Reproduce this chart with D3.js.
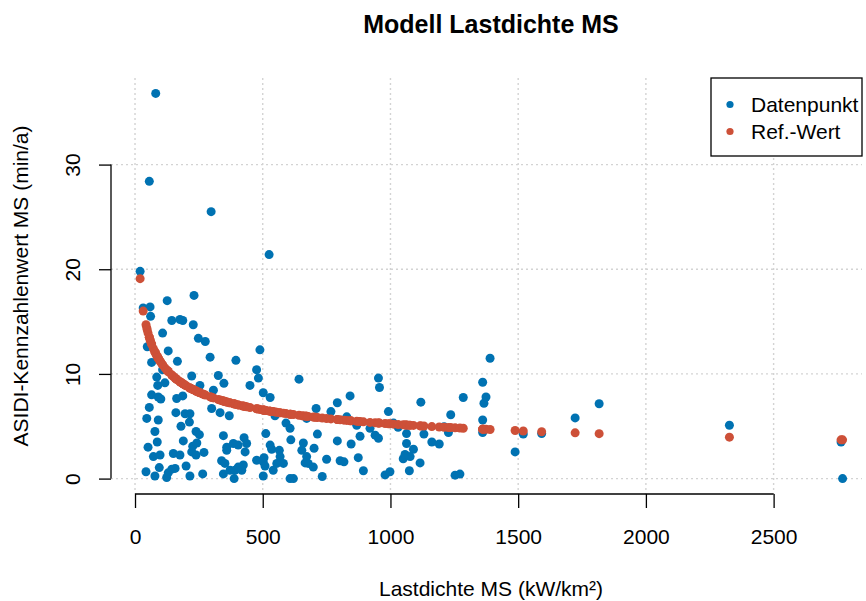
<!DOCTYPE html>
<html>
<head>
<meta charset="utf-8">
<script src="https://cdn.jsdelivr.net/npm/d3@7"></script>
<style>
  body { margin: 0; background: #fff; }
  svg text { font-family: "Liberation Sans", Arial, sans-serif; fill: #000; }
</style>
</head>
<body>
<script>
// Lastdichte MS (kW/km²) per Datenpunkt
const lastdichte = [
  20, 32, 43, 46, 48, 51, 56, 56, 59, 61,
  65, 65, 72, 78, 78, 81, 85, 87, 89, 91,
  91, 95, 98, 101, 108, 108, 117, 124, 126, 130,
  130, 144, 144, 150, 157, 160, 163, 166, 176, 176,
  180, 187, 187, 189, 196, 200, 213, 215, 215, 222,
  222, 226, 228, 231, 239, 239, 242, 248, 252, 254,
  265, 270, 275, 294, 298, 300, 307, 326, 333, 339,
  346, 346, 348, 352, 359, 359, 369, 372, 385, 388,
  391, 395, 404, 404, 418, 424, 427, 431, 437, 450,
  476, 476, 483, 489, 502, 502, 502, 505, 509, 512,
  525, 529, 529, 535, 541, 548, 555, 565, 568, 581,
  591, 607, 607, 610, 620, 642, 653, 659, 666, 672,
  672, 678, 698, 701, 709, 714, 733, 750, 767, 792,
  792, 803, 818, 829, 842, 846, 868, 874, 881, 894,
  920, 940, 953, 953, 957, 979, 992, 998, 1012, 1030,
  1050, 1057, 1063, 1063, 1074, 1077, 1090, 1116, 1119, 1131,
  1162, 1191, 1210, 1227, 1236, 1253, 1272, 1285, 1361, 1361,
  1361, 1366, 1374, 1390, 1488, 1520, 1592, 1723, 1817, 2327,
  2764, 2770
];

// ASIDI-Kennzahlenwert MS (min/a), measured
const asidi = [
  19.8, 16.3, 0.65, 5.75, 12.6, 3.0, 28.4, 6.8, 16.4, 15.5,
  11.1, 8.0, 2.1, 4.5, 0.25, 36.8, 9.7, 3.5, 8.9, 7.8,
  5.6, 1.05, 2.25, 7.6, 13.9, 10.4, 9.15, 0.1, 17.0, 12.2,
  0.55, 15.1, 0.9, 2.4, 0.97, 6.3, 7.65, 11.2, 15.2, 2.25,
  5.0, 15.1, 7.9, 3.6, 6.2, 1.2, 5.4, 6.2, 0.25, 9.8,
  2.55, 3.1, 14.7, 17.5, 4.5, 2.25, 3.4, 13.4, 4.2, 8.9,
  0.45, 2.5, 13.1, 11.6, 25.5, 6.7, 8.45, 9.85, 6.3, 1.7,
  4.1, 0.45, 9.1, 1.45, 3.0, 2.7, 6.0, 0.8, 3.35, 0.0,
  0.8, 11.3, 3.2, 1.1, 0.8, 1.3, 3.9, 2.55, 3.35, 8.9,
  10.4, 1.75, 9.6, 12.3, 8.2, 1.6, 0.25, 2.0, 1.2, 4.3,
  21.4, 7.75, 3.2, 2.8, 0.8, 6.0, 1.45, 2.7, 2.1, 1.45,
  5.3, 4.8, 0.0, 3.7, 0.0, 9.5, 2.7, 3.4, 1.5, 5.75,
  2.1, 1.45, 1.1, 2.9, 6.7, 4.25, 0.2, 1.85, 6.4, 7.25,
  3.6, 1.7, 1.6, 5.9, 7.9, 3.3, 5.1, 2.0, 4.05, 0.75,
  4.8, 4.15, 9.6, 3.85, 8.7, 0.35, 6.4, 0.65, 5.3, 4.9,
  1.9, 2.3, 4.3, 3.35, 0.75, 2.1, 2.8, 1.5, 7.3, 4.25,
  3.5, 3.3, 4.95, 4.4, 6.1, 0.33, 0.43, 7.75, 9.2, 5.6,
  4.4, 7.2, 7.8, 11.5, 2.55, 4.25, 4.3, 5.8, 7.15, 5.1,
  3.5, 0.0
];

// Ref.-Wert for the same points
const refWert = [
  19.1, 16.0, 14.7, 14.4, 14.2, 13.9, 13.5, 13.5, 13.25, 13.1,
  12.85, 12.85, 12.4, 12.1, 12.1, 11.95, 11.75, 11.67, 11.58, 11.5,
  11.5, 11.34, 11.22, 11.11, 10.87, 10.87, 10.58, 10.38, 10.33, 10.23,
  10.23, 9.89, 9.89, 9.75, 9.61, 9.54, 9.49, 9.43, 9.25, 9.25,
  9.18, 9.07, 9.07, 9.03, 8.93, 8.87, 8.69, 8.66, 8.66, 8.57,
  8.57, 8.52, 8.5, 8.47, 8.37, 8.37, 8.33, 8.26, 8.22, 8.2,
  8.08, 8.04, 7.99, 7.81, 7.78, 7.76, 7.71, 7.55, 7.5, 7.46,
  7.41, 7.41, 7.4, 7.37, 7.32, 7.32, 7.25, 7.24, 7.15, 7.14,
  7.12, 7.09, 7.04, 7.04, 6.96, 6.93, 6.91, 6.89, 6.86, 6.79,
  6.67, 6.67, 6.64, 6.61, 6.55, 6.55, 6.55, 6.54, 6.53, 6.51,
  6.46, 6.44, 6.44, 6.42, 6.4, 6.37, 6.34, 6.3, 6.29, 6.25,
  6.21, 6.15, 6.15, 6.15, 6.12, 6.04, 6.01, 5.99, 5.97, 5.95,
  5.95, 5.94, 5.88, 5.87, 5.85, 5.84, 5.79, 5.74, 5.7, 5.64,
  5.64, 5.62, 5.58, 5.56, 5.53, 5.52, 5.47, 5.46, 5.45, 5.42,
  5.37, 5.33, 5.31, 5.31, 5.3, 5.26, 5.24, 5.23, 5.2, 5.17,
  5.14, 5.13, 5.12, 5.12, 5.1, 5.1, 5.08, 5.04, 5.03, 5.02,
  4.97, 4.93, 4.9, 4.88, 4.87, 4.85, 4.83, 4.81, 4.72, 4.72,
  4.72, 4.72, 4.71, 4.69, 4.59, 4.55, 4.48, 4.37, 4.29, 3.96,
  3.7, 3.7
];

const xTicks = [0, 500, 1000, 1500, 2000, 2500];
const yTicks = [0, 10, 20, 30];
const seriesNames = ["Datenpunkt", "Ref.-Wert"];

const width = 866;
const height = 601;
const plotLeft = 111, plotRight = 862, plotTop = 78, plotBottom = 494;
const fontFamily = "Liberation Sans, Arial, sans-serif";
const blue = "#0072B2";
const red = "#CD5038";

const x = d3.scaleLinear()
    .domain([-94, 2846])
    .range([plotLeft, plotRight]);

// R style: 4% padding around the data range
const yExt = d3.extent(asidi);
const yPad = (yExt[1] - yExt[0]) * 0.04;
const y = d3.scaleLinear()
    .domain([yExt[0] - yPad, yExt[1] + yPad])
    .range([plotBottom, plotTop]);

const color = d3.scaleOrdinal().domain(seriesNames).range([blue, red]);

const svg = d3.select("body").append("svg")
    .attr("width", width)
    .attr("height", height);

// Dotted grid
const grid = svg.append("g")
    .attr("stroke", "#d3d3d3")
    .attr("stroke-width", 1.4)
    .attr("stroke-dasharray", "2,3");

grid.selectAll(".gv")
    .data(xTicks)
    .join("line")
    .attr("x1", d => x(d)).attr("x2", d => x(d))
    .attr("y1", plotTop).attr("y2", plotBottom);

grid.selectAll(".gh")
    .data(yTicks)
    .join("line")
    .attr("x1", plotLeft).attr("x2", plotRight)
    .attr("y1", d => y(d)).attr("y2", d => y(d));

// X axis
const xAxis = svg.append("g")
    .attr("transform", `translate(0,${plotBottom})`)
    .call(d3.axisBottom(x).tickValues(xTicks).tickFormat(d3.format("d"))
        .tickSize(14).tickSizeOuter(0))
    .attr("font-size", 21)
    .attr("font-family", fontFamily);
xAxis.select(".domain").remove();
xAxis.append("line")
    .attr("x1", x(xTicks[0])).attr("x2", x(xTicks[xTicks.length - 1]))
    .attr("stroke", "#000").attr("stroke-width", 1.3);
xAxis.selectAll(".tick line").attr("stroke-width", 1.3);
xAxis.selectAll(".tick text").attr("y", 50).attr("dy", null);

// Y axis
const yAxis = svg.append("g")
    .attr("transform", `translate(${plotLeft},0)`)
    .call(d3.axisLeft(y).tickValues(yTicks).tickFormat(d3.format("d"))
        .tickSize(12).tickSizeOuter(0))
    .attr("font-size", 21)
    .attr("font-family", fontFamily);
yAxis.select(".domain").remove();
yAxis.append("line")
    .attr("y1", y(yTicks[0])).attr("y2", y(yTicks[yTicks.length - 1]))
    .attr("stroke", "#000").attr("stroke-width", 1.3);
yAxis.selectAll(".tick line").attr("stroke-width", 1.3);
yAxis.selectAll(".tick text")
    .attr("x", 0).attr("dy", null)
    .attr("text-anchor", "middle")
    .attr("transform", "translate(-31,0) rotate(-90)");

// Points: measured first, reference on top
const points = lastdichte.map((d, i) => ({ x: d, y: asidi[i], ref: refWert[i] }));

svg.append("g")
    .selectAll("circle")
    .data(points)
    .join("circle")
    .attr("cx", d => x(d.x))
    .attr("cy", d => y(d.y))
    .attr("r", 4.5)
    .attr("fill", color("Datenpunkt"));

svg.append("g")
    .selectAll("circle")
    .data(points)
    .join("circle")
    .attr("cx", d => x(d.x))
    .attr("cy", d => y(d.ref))
    .attr("r", 4.5)
    .attr("fill", color("Ref.-Wert"));

// Title and axis labels
svg.append("text")
    .attr("x", 491).attr("y", 33)
    .attr("text-anchor", "middle")
    .attr("font-size", 25)
    .attr("font-weight", "bold")
    .text("Modell Lastdichte MS");

svg.append("text")
    .attr("x", 491).attr("y", 596)
    .attr("text-anchor", "middle")
    .attr("font-size", 21)
    .text("Lastdichte MS (kW/km²)");

svg.append("text")
    .attr("transform", `translate(28,${(plotTop + plotBottom) / 2}) rotate(-90)`)
    .attr("text-anchor", "middle")
    .attr("font-size", 21)
    .text("ASIDI-Kennzahlenwert MS (min/a)");

// Legend (top right)
const legend = svg.append("g");
legend.append("rect")
    .attr("x", 711).attr("y", plotTop)
    .attr("width", plotRight - 711).attr("height", 156 - plotTop)
    .attr("fill", "#fff")
    .attr("stroke", "#000")
    .attr("stroke-width", 1.3);

seriesNames.forEach((name, i) => {
    const row = legend.append("g")
        .attr("transform", `translate(0,${104.5 + i * 27})`);
    row.append("circle")
        .attr("cx", 730).attr("cy", 0)
        .attr("r", 3.6)
        .attr("fill", color(name));
    row.append("text")
        .attr("x", 751).attr("y", 7.5)
        .attr("font-size", 21)
        .text(name);
});
</script>
</body>
</html>
